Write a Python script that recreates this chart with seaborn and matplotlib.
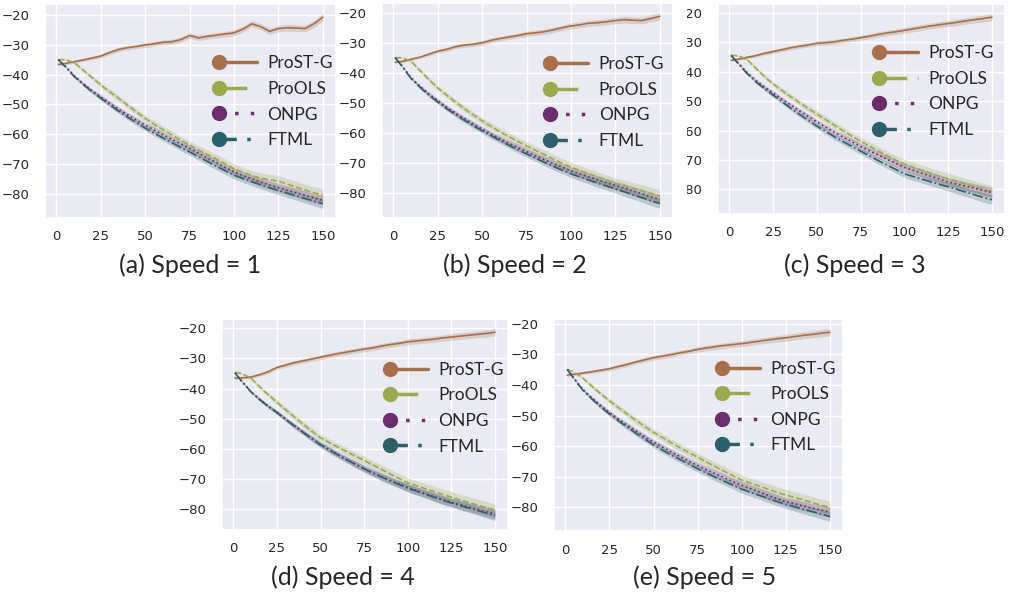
import pandas as pd
import matplotlib.pyplot as plt
from matplotlib.lines import Line2D
from matplotlib.patches import Rectangle
from matplotlib.legend_handler import HandlerLine2D
import seaborn as sns

# x grid (time steps) shared by every curve
STEPS = [1] + list(range(5, 151, 5))

METHODS = ["ProST-G", "ProOLS", "ONPG", "FTML"]
TITLES = ["(a) Speed = 1", "(b) Speed = 2", "(c) Speed = 3", "(d) Speed = 4", "(e) Speed = 5"]

# speed = 1
PROSTG_1 = [-36.6, -36.3, -35.7, -35.1, -34.5, -33.8, -32.6, -31.6, -31.0, -30.6, -30.1, -29.7, -29.2, -29.0, -28.3, -26.9,
            -27.7, -27.2, -26.8, -26.4, -26.0, -24.8, -23.0, -23.9, -25.5, -24.6, -24.3, -24.4, -24.6, -23.0, -20.8]
PROOLS_1 = [-35.0, -35.0, -36.0, -38.5, -41.0, -43.5, -45.8, -48.0, -50.3, -52.5, -54.8, -56.7, -58.5, -60.3, -62.0, -63.7,
            -65.3, -66.8, -68.3, -70.0, -71.6, -72.8, -73.9, -74.8, -75.3, -75.8, -76.8, -77.8, -78.8, -79.7, -80.5]
ONPG_1 = [-35.0, -37.2, -40.4, -43.0, -45.4, -47.5, -49.6, -51.6, -53.5, -55.3, -57.0, -58.6, -60.2, -61.8, -63.3, -64.8,
          -66.4, -68.0, -69.6, -71.2, -72.7, -73.9, -75.0, -76.1, -77.1, -78.0, -78.9, -79.7, -80.6, -81.4, -82.2]
FTML_1 = [-35.0, -37.4, -40.7, -43.3, -45.8, -48.0, -50.2, -52.3, -54.3, -56.2, -58.0, -59.7, -61.3, -62.9, -64.5, -66.0,
          -67.6, -69.2, -70.8, -72.3, -73.8, -74.9, -76.0, -77.0, -78.0, -78.9, -79.8, -80.7, -81.6, -82.5, -83.3]

# speed = 2
PROSTG_2 = [-36.5, -36.2, -35.5, -34.8, -33.8, -32.8, -32.2, -31.3, -30.8, -30.5, -30.0, -29.2, -28.6, -28.1, -27.6, -27.0,
            -26.7, -26.3, -25.7, -25.0, -24.4, -24.0, -23.5, -23.3, -23.0, -22.6, -22.3, -22.5, -22.6, -21.9, -21.2]
PROOLS_2 = [-35.0, -35.0, -36.2, -39.3, -42.3, -45.1, -47.5, -49.8, -52.0, -54.1, -56.1, -57.9, -59.7, -61.3, -62.9, -64.4,
            -65.9, -67.3, -68.8, -70.2, -71.5, -72.6, -73.7, -74.8, -75.9, -77.0, -77.8, -78.6, -79.4, -80.3, -81.1]
ONPG_2 = [-35.0, -37.8, -41.7, -44.5, -47.1, -49.3, -51.5, -53.5, -55.3, -57.1, -58.8, -60.4, -62.0, -63.5, -64.9, -66.3,
          -67.7, -69.0, -70.3, -71.5, -72.7, -73.7, -74.7, -75.7, -76.7, -77.6, -78.5, -79.5, -80.4, -81.4, -82.3]
FTML_2 = [-35.0, -38.0, -42.0, -44.9, -47.5, -49.8, -52.0, -54.0, -55.9, -57.7, -59.4, -61.0, -62.6, -64.2, -65.7, -67.1,
          -68.5, -69.9, -71.2, -72.5, -73.7, -74.8, -75.8, -76.8, -77.8, -78.7, -79.7, -80.7, -81.7, -82.7, -83.6]

# speed = 3
PROSTG_3 = [-36.2, -35.8, -35.2, -34.6, -33.8, -33.2, -32.6, -31.9, -31.4, -31.0, -30.4, -30.2, -29.9, -29.4, -29.0, -28.5,
            -28.0, -27.4, -26.9, -26.5, -26.0, -25.5, -25.0, -24.5, -24.1, -23.7, -23.3, -22.8, -22.4, -22.0, -21.5]
PROOLS_3 = [-34.5, -34.6, -35.8, -38.8, -41.6, -44.2, -46.4, -48.5, -50.5, -52.5, -54.4, -56.3, -58.2, -60.1, -61.9, -63.7,
            -65.3, -66.9, -68.5, -70.0, -71.4, -72.5, -73.5, -74.5, -75.5, -76.4, -77.3, -78.2, -79.1, -80.0, -80.8]
ONPG_3 = [-34.5, -37.0, -40.2, -42.9, -45.2, -47.2, -49.3, -51.3, -53.3, -55.2, -57.1, -58.9, -60.6, -62.2, -63.8, -65.4,
          -66.9, -68.3, -69.7, -71.1, -72.5, -73.5, -74.5, -75.5, -76.5, -77.5, -78.2, -78.9, -79.6, -80.3, -81.0]
FTML_3 = [-34.5, -37.2, -40.6, -43.4, -45.8, -48.0, -50.2, -52.4, -54.5, -56.5, -58.5, -60.3, -62.1, -63.8, -65.4, -67.0,
          -68.6, -70.2, -71.7, -73.2, -74.7, -75.6, -76.5, -77.4, -78.3, -79.1, -80.0, -80.9, -81.8, -82.7, -83.5]

# speed = 4
PROSTG_4 = [-36.5, -36.4, -36.2, -35.4, -34.4, -33.0, -32.2, -31.4, -30.8, -30.2, -29.6, -29.0, -28.4, -27.9, -27.4, -26.9,
            -26.5, -25.9, -25.4, -25.0, -24.5, -24.2, -23.9, -23.6, -23.2, -22.9, -22.6, -22.3, -22.0, -21.7, -21.3]
PROOLS_4 = [-34.6, -35.0, -36.5, -39.3, -42.0, -44.5, -47.0, -49.4, -51.8, -54.1, -56.3, -57.9, -59.4, -60.9, -62.4, -63.8,
            -65.3, -66.8, -68.3, -69.8, -71.2, -72.2, -73.2, -74.1, -75.1, -76.0, -76.9, -77.8, -78.6, -79.5, -80.3]
ONPG_4 = [-34.8, -37.6, -40.9, -43.5, -45.8, -47.8, -50.1, -52.3, -54.4, -56.5, -58.5, -60.2, -61.9, -63.5, -65.0, -66.5,
          -67.9, -69.2, -70.4, -71.6, -72.8, -73.8, -74.8, -75.8, -76.8, -77.7, -78.5, -79.3, -80.1, -80.8, -81.6]
FTML_4 = [-34.8, -37.7, -41.0, -43.6, -45.9, -47.9, -50.2, -52.4, -54.5, -56.6, -58.6, -60.3, -62.0, -63.6, -65.1, -66.6,
          -68.0, -69.3, -70.6, -71.8, -73.0, -74.0, -75.0, -76.0, -77.0, -77.9, -78.8, -79.6, -80.4, -81.3, -82.1]

# speed = 5
PROSTG_5 = [-36.8, -36.5, -36.1, -35.7, -35.2, -34.7, -34.0, -33.3, -32.5, -31.8, -31.1, -30.6, -30.1, -29.5, -29.0, -28.4,
            -27.9, -27.5, -27.1, -26.8, -26.5, -26.1, -25.7, -25.3, -24.9, -24.6, -24.2, -23.8, -23.5, -23.1, -22.8]
PROOLS_5 = [-34.9, -35.8, -37.8, -40.4, -42.9, -45.2, -47.4, -49.5, -51.6, -53.6, -55.5, -57.2, -58.9, -60.5, -62.1, -63.6,
            -65.2, -66.7, -68.2, -69.7, -71.1, -72.1, -73.1, -74.1, -75.1, -76.0, -76.8, -77.6, -78.5, -79.3, -80.1]
ONPG_5 = [-34.9, -37.9, -41.5, -44.2, -46.7, -49.0, -51.1, -53.1, -55.0, -56.9, -58.7, -60.3, -61.9, -63.4, -64.9, -66.3,
          -67.7, -69.0, -70.3, -71.6, -72.8, -73.9, -75.0, -76.1, -77.2, -78.2, -78.9, -79.6, -80.3, -80.9, -81.6]
FTML_5 = [-34.9, -38.1, -41.8, -44.6, -47.2, -49.5, -51.7, -53.8, -55.8, -57.7, -59.6, -61.3, -62.9, -64.4, -65.9, -67.4,
          -68.8, -70.2, -71.5, -72.8, -74.1, -75.1, -76.1, -77.1, -78.1, -79.0, -79.8, -80.6, -81.4, -82.2, -83.0]

# half width of the shaded band, one list per method
BAND_PROSTG = [0.4, 0.4, 0.5, 0.5, 0.6, 0.6, 0.7, 0.7, 0.7, 0.7, 0.8, 0.8, 0.8, 0.8, 0.8, 0.9,
               0.9, 0.9, 0.9, 0.9, 1.0, 1.0, 1.0, 1.0, 1.0, 1.1, 1.1, 1.1, 1.1, 1.2, 1.2]
BAND_PROOLS = [0.1, 0.2, 0.4, 0.6, 0.7, 0.8, 0.9, 1.0, 1.0, 1.1, 1.1, 1.2, 1.2, 1.3, 1.3, 1.4,
               1.4, 1.5, 1.5, 1.6, 1.6, 1.7, 1.7, 1.8, 1.8, 1.9, 1.9, 2.0, 2.0, 2.1, 2.1]
BAND_ONPG = [0.1, 0.2, 0.3, 0.5, 0.6, 0.7, 0.7, 0.8, 0.8, 0.9, 0.9, 1.0, 1.0, 1.0, 1.1, 1.1,
             1.1, 1.2, 1.2, 1.2, 1.3, 1.3, 1.3, 1.4, 1.4, 1.4, 1.5, 1.5, 1.5, 1.6, 1.6]
BAND_FTML = [0.1, 0.2, 0.3, 0.5, 0.6, 0.7, 0.7, 0.8, 0.8, 0.9, 0.9, 1.0, 1.0, 1.0, 1.1, 1.1,
             1.1, 1.2, 1.2, 1.2, 1.3, 1.3, 1.3, 1.4, 1.4, 1.4, 1.5, 1.5, 1.5, 1.6, 1.6]

PANELS = [
    [PROSTG_1, PROOLS_1, ONPG_1, FTML_1],
    [PROSTG_2, PROOLS_2, ONPG_2, FTML_2],
    [PROSTG_3, PROOLS_3, ONPG_3, FTML_3],
    [PROSTG_4, PROOLS_4, ONPG_4, FTML_4],
    [PROSTG_5, PROOLS_5, ONPG_5, FTML_5],
]
BANDS = [BAND_PROSTG, BAND_PROOLS, BAND_ONPG, BAND_FTML]

COLORS = ["#a8704a", "#9aaa4c", "#6b2d6e", "#2c6169"]
LINESTYLES = ["-", "--", ":", "-."]
LEGEND_DASHES = [None, (8, 3), (1, 3.5), (5, 3, 1, 3)]

W, H = 1013, 596
# axes boxes in pixels: left, top, right, bottom
BOXES = [(45, 4, 336, 218), (382, 3, 673, 218), (718, 4, 1005, 214), (222, 319, 508, 530), (554, 319, 843, 531)]
LEG_ANCHOR = [(0.99, 0.543), (0.97, 0.537), (0.96, 0.583), (0.985, 0.577), (0.975, 0.585)]
TITLE_POS = [(190, 265), (515, 265), (855, 265), (343, 577), (705, 577)]


class FirstMarkerHandler(HandlerLine2D):
    # legend handle with the dot only at the left end of the line
    def create_artists(self, *args, **kwargs):
        artists = super().create_artists(*args, **kwargs)
        for a in artists:
            a.set_markevery([0])
        return artists


sns.set_theme(style="darkgrid")
plt.rcParams["font.family"] = ["DejaVu Sans"]

fig = plt.figure(figsize=(W / 100, H / 100), dpi=100)

for p, series in enumerate(PANELS):
    l, t, r, b = BOXES[p]
    ax = fig.add_axes([l / W, 1 - b / H, (r - l) / W, (b - t) / H])
    for k, name in enumerate(METHODS):
        df = pd.DataFrame({"step": STEPS, "reward": series[k]})
        lo = [v - w for v, w in zip(series[k], BANDS[k])]
        hi = [v + w for v, w in zip(series[k], BANDS[k])]
        ax.fill_between(STEPS, lo, hi, color=COLORS[k], alpha=0.25, linewidth=0)
        sns.lineplot(data=df, x="step", y="reward", ax=ax, color=COLORS[k],
                     linestyle=LINESTYLES[k], linewidth=1.2, legend=False)
    ax.set_xlabel("")
    ax.set_ylabel("")
    ax.set_xticks([0, 25, 50, 75, 100, 125, 150])
    ax.set_yticks([-80, -70, -60, -50, -40, -30, -20])
    ax.tick_params(axis="x", labelsize=9.5, pad=3)
    ax.tick_params(axis="y", labelsize=9.5, pad=5)

    handles = []
    for k in range(4):
        h = Line2D([], [], color=COLORS[k], lw=2.5, marker="o", markersize=10)
        if LEGEND_DASHES[k] is not None:
            h.set_dashes(LEGEND_DASHES[k])
        handles.append(h)
    ax.legend(handles, METHODS, loc="center right", bbox_to_anchor=LEG_ANCHOR[p], frameon=False,
              numpoints=2, handlelength=2.8, handletextpad=0.3, labelspacing=0.55,
              borderpad=0, borderaxespad=0, prop={"family": "Lato", "size": 12.5},
              handler_map={Line2D: FirstMarkerHandler()})

    tx, ty = TITLE_POS[p]
    fig.text(tx / W, 1 - ty / H, TITLES[p], ha="center", va="center", fontsize=18, family="Lato")

# the third panel's tick labels are partly hidden behind the second one in the original
fig.patches.append(Rectangle((674 / W, 1 - 222 / H), 13 / W, 222 / H, transform=fig.transFigure,
                             facecolor="white", edgecolor="none", zorder=5))

plt.savefig("out.png", dpi=100)
plt.close()
